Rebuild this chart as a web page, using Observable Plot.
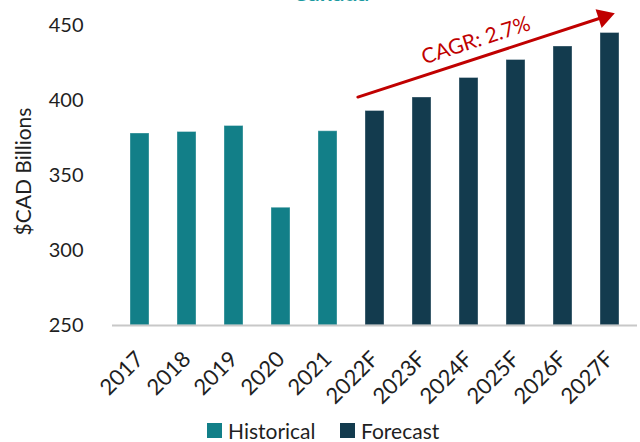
<!DOCTYPE html>
<html>
<head>
<meta charset="utf-8">
<script src="https://cdn.jsdelivr.net/npm/d3@7"></script>
<script src="https://cdn.jsdelivr.net/npm/@observablehq/plot@0.6"></script>
<style>
  html, body { margin: 0; padding: 0; background: #fff; width: 640px; height: 442px; overflow: hidden; font-family: Lato, "Noto Sans", sans-serif; }
  #title { position: relative; height: 4px; overflow: hidden; }
  #title span { position: absolute; left: 0; width: 662px; text-align: center; top: -22px; font-size: 23px; font-weight: bold; color: #1c9aa1; }
  #legend { position: relative; height: 32px; overflow: hidden; font-size: 21px; color: #1f1f1f; }
  .item { position: absolute; top: 8px; display: flex; align-items: center; }
  .sw { width: 15px; height: 15px; margin-right: 6px; }
</style>
</head>
<body>
<div id="title"><span></span></div>
<div id="chart"></div>
<div id="legend"></div>
<script>
const chartTitle = "Canada";
const years = ["2017","2018","2019","2020","2021","2022F","2023F","2024F","2025F","2026F","2027F"];
const values = [378, 379, 383, 328.5, 379.5, 393, 402, 415, 427, 436, 445];
const phases = ["Historical","Historical","Historical","Historical","Historical","Forecast","Forecast","Forecast","Forecast","Forecast","Forecast"];
const seriesNames = ["Historical", "Forecast"];
const seriesColors = ["#127f88", "#133b4e"];
const yTicks = [250, 300, 350, 400, 450];
const yLabel = "$CAD Billions";
const cagrLabel = "CAGR: 2.7%";
const cagrYears = ["2022F", "2027F"];
const cagrValues = [406, 457];
const cagrTextYear = "2024F";
const cagrTextValue = 440;

const data = years.map((y, i) => ({year: y, value: values[i], phase: phases[i]}));
const arrowData = [{x1: cagrYears[0], y1: cagrValues[0], x2: cagrYears[1], y2: cagrValues[1]}];
const yMin = yTicks[0];

document.querySelector("#title span").textContent = chartTitle;

const red = "#c00000";
const plot = Plot.plot({
  width: 640,
  height: 406,
  marginTop: 21,
  marginBottom: 85,
  marginLeft: 112,
  marginRight: 3,
  style: {fontFamily: "Lato, 'Noto Sans', sans-serif", fontSize: "20px", color: "#1f1f1f", overflow: "visible"},
  x: {domain: years, paddingInner: 0.59, paddingOuter: 0.295},
  y: {domain: [yTicks[0], yTicks[yTicks.length - 1]]},
  color: {domain: seriesNames, range: seriesColors},
  marks: [
    Plot.barY(data, {x: "year", y1: yMin, y2: "value", fill: "phase", stroke: "#ffffff", strokeOpacity: 0.35, strokeWidth: 1}),
    Plot.ruleY([yMin], {stroke: "#c8c8c8", strokeWidth: 2}),
    Plot.axisY({ticks: yTicks, tickSize: 0, tickPadding: 29, fontSize: 20, label: null}),
    Plot.axisX({tickRotate: -45, tickSize: 0, tickPadding: 30, fontSize: 22, label: null}),
    Plot.text([yLabel], {frameAnchor: "left", textAnchor: "middle", text: d => d, rotate: -90, dx: -88, dy: -4, fontSize: 21, fill: "#1f1f1f"}),
    Plot.arrow(arrowData, {x1: "x1", y1: "y1", x2: "x2", y2: "y2", stroke: red, strokeWidth: 3, headLength: 0, insetStart: -18, insetEnd: 5}),
    Plot.dot(arrowData, {x: "x2", y: "y2", symbol: "triangle", r: 7.3, rotate: 72, fill: red, stroke: "none", dx: -6, dy: 1.8}),
    Plot.text([cagrLabel], {x: () => cagrTextYear, y: () => cagrTextValue, text: d => d, rotate: -18, fill: red, fontSize: 21, dx: 7})
  ]
});
document.getElementById("chart").appendChild(plot);

const legend = document.getElementById("legend");
const lefts = [207, 340];
seriesNames.forEach((name, i) => {
  const item = document.createElement("div");
  item.className = "item";
  item.style.left = lefts[i] + "px";
  const sw = document.createElement("div");
  sw.className = "sw";
  sw.style.background = seriesColors[i];
  const t = document.createElement("span");
  t.textContent = name;
  item.appendChild(sw);
  item.appendChild(t);
  legend.appendChild(item);
});
</script>
</body>
</html>
